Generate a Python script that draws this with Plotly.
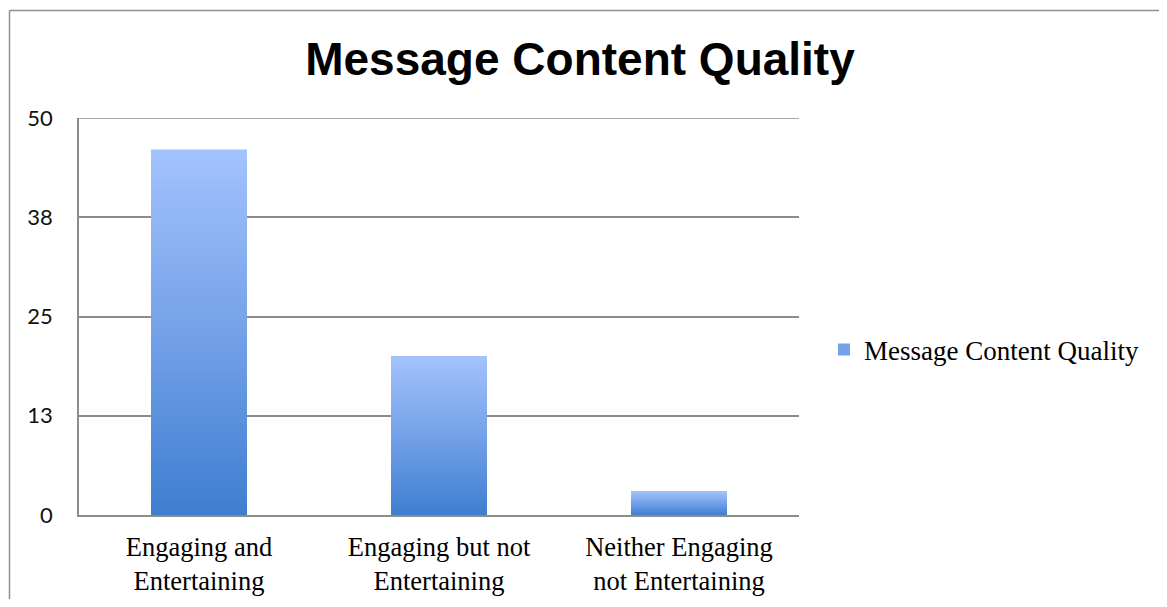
import plotly.graph_objects as go

categories = ["Engaging and<br>Entertaining", "Engaging but not<br>Entertaining", "Neither Engaging<br>not Entertaining"]
values = [46, 20, 3]
series_name = "Message Content Quality"
y_tickvals = [0, 12.5, 25, 37.5, 50]
y_ticktext = ["0", "13", "25", "38", "50"]

# page body has an 8px margin, so figure pixel coords = screen coords - 8
OFF = 8
W, H = 1167 - 2 * OFF, 607 - 2 * OFF
L, R, T, B = 79 - OFF, 799 - OFF, 118 - OFF, 515 - OFF  # plot area in figure pixels

def px_x(p):  # screen px -> paper
    return (p - OFF - L) / (R - L)

def px_y(p):
    return (B - (p - OFF)) / (B - T)

xs = list(range(len(categories)))
bar_w = 0.4
light = "#a3c3fd"
mid = "#74a1e8"
dark = "#3e7ed0"
grid = "#8c8c8c"

fig = go.Figure()
fig.add_trace(go.Bar(
    x=xs, y=values, width=bar_w, name=series_name,
    marker=dict(color=mid, line=dict(width=0)),
    showlegend=True, hoverinfo="skip",
))
for xi, v in zip(xs, values):
    x0, x1 = xi - bar_w / 2, xi + bar_w / 2
    fig.add_trace(go.Scatter(
        x=[x0, x1, x1, x0, x0], y=[0, 0, v, v, 0],
        mode="lines", line=dict(width=0), fill="toself",
        fillgradient=dict(type="vertical",
                          colorscale=[[0, dark], [0.5, mid], [1, light]]),
        showlegend=False, hoverinfo="skip",
    ))

fig.update_layout(
    width=W, height=H,
    margin=dict(l=L, r=W - R, t=T, b=H - B, pad=0, autoexpand=False),
    paper_bgcolor="white", plot_bgcolor="white",
    title=dict(text="<b>Message Content Quality</b>",
               font=dict(family="Liberation Sans, Arial", size=46, color="black"),
               xref="paper", x=px_x(580), xanchor="center",
               yref="container", y=1 - (59 - OFF) / H, yanchor="middle"),
    xaxis=dict(range=[-0.5, 2.5], tickvals=xs, ticktext=categories,
               automargin=False,
               showgrid=False, zeroline=False, showline=True,
               linecolor=grid, linewidth=1.6, ticks="",
               ticklabelstandoff=7,
               tickfont=dict(family="Liberation Serif, Times New Roman", size=26.5, color="black")),
    yaxis=dict(range=[0, 50], tickvals=y_tickvals, ticktext=y_ticktext,
               automargin=False,
               showgrid=True, gridcolor=grid, gridwidth=1.6,
               zeroline=False, showline=True, linecolor=grid, linewidth=1.6,
               ticks="", ticklabelstandoff=20,
               tickfont=dict(family="Lato, Calibri, sans-serif", size=22, color="#111")),
    legend=dict(x=px_x(824), xanchor="left", y=px_y(350), yanchor="middle",
                font=dict(family="Liberation Serif, Times New Roman", size=27, color="black"),
                bgcolor="rgba(0,0,0,0)", itemwidth=30),
    shapes=[
        dict(type="line", xref="paper", yref="y", x0=0, x1=1, y0=50, y1=50,
             line=dict(color=grid, width=1.6), layer="below"),
        dict(type="line", xref="paper", yref="paper",
             x0=px_x(9.5), x1=px_x(1167 + 5), y0=px_y(10.5), y1=px_y(10.5),
             line=dict(color="#8f8f8f", width=1.5)),
        dict(type="line", xref="paper", yref="paper",
             x0=px_x(9.5), x1=px_x(9.5), y0=px_y(10.5), y1=px_y(607 + 5),
             line=dict(color="#8f8f8f", width=1.5)),
    ],
    showlegend=True,
)

fig.write_html("out.html")
